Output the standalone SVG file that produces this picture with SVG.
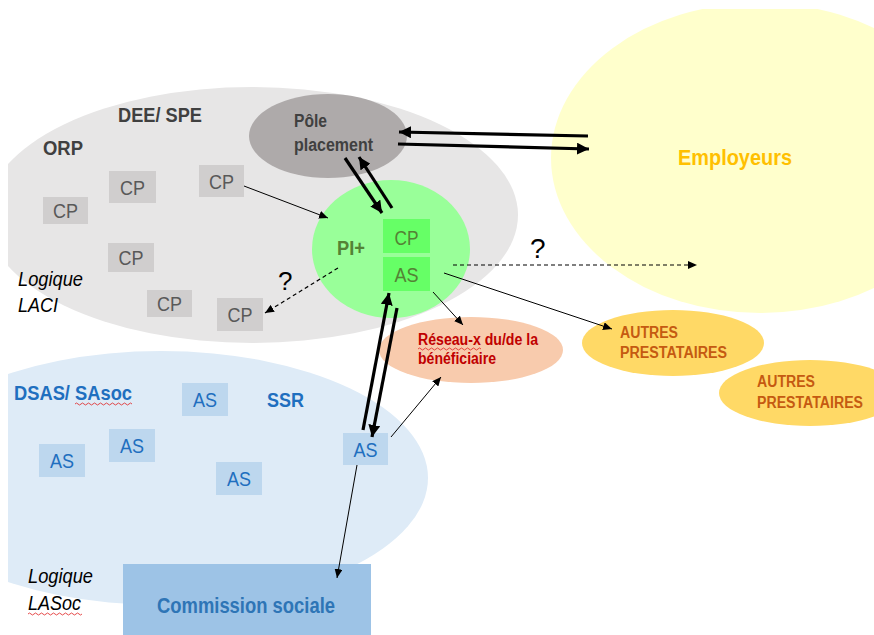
<svg xmlns="http://www.w3.org/2000/svg" width="874" height="635" viewBox="0 0 874 635">
<style>
text{font-family:"Liberation Sans",Arial,sans-serif}
.b{font-weight:bold}
.i{font-style:italic;font-size:20px;fill:#000}
.cpbox{fill:#d0cece}
.cpt{font-size:21px;fill:#595959;text-anchor:middle}
.asbox{fill:#bdd7ee}
.ast{font-size:21px;fill:#1f6fbf;text-anchor:middle}
.gbox{fill:#66ff66}
.gt{font-size:21px;fill:#548235;text-anchor:middle}
.thick{stroke:#000;stroke-width:3.2;fill:none}
.thin{stroke:#000;stroke-width:1;fill:none}
.dash{stroke:#000;stroke-width:1.2;fill:none;stroke-dasharray:4 3}
.sq{stroke:#e02020;stroke-width:0.8;fill:none}
</style>
<defs>
<clipPath id="clip"><rect x="8" y="9" width="866" height="626"/></clipPath>
<marker id="ah" markerUnits="userSpaceOnUse" markerWidth="14" markerHeight="12" refX="12" refY="6" orient="auto"><path d="M0,0 L12,6 L0,12 Z" fill="#000"/></marker>
<marker id="as" markerUnits="userSpaceOnUse" markerWidth="10" markerHeight="8" refX="9" refY="4" orient="auto"><path d="M0,0 L9,4 L0,8 Z" fill="#000"/></marker>
</defs>
<rect width="874" height="635" fill="#fff"/>
<g clip-path="url(#clip)">
<g id="orp-zone"><ellipse cx="252" cy="215" rx="266" ry="128" fill="#e7e6e6"/></g>
<g id="employeurs"><ellipse cx="760" cy="158" rx="209" ry="155" fill="#ffffcc"/></g>
<g id="dsas-zone"><ellipse cx="161" cy="478" rx="267" ry="127" fill="#deebf7"/></g>
<g id="autres2-shape"><ellipse cx="810" cy="393" rx="91" ry="33" fill="#ffd966"/></g>
</g>
<text x="678" y="165" class="b" font-size="22" fill="#ffc000" textLength="114" lengthAdjust="spacingAndGlyphs">Employeurs</text>
<g id="orp-labels">
<text x="118" y="122" class="b" font-size="21" fill="#404040" textLength="84" lengthAdjust="spacingAndGlyphs">DEE/ SPE</text>
<text x="43" y="155" class="b" font-size="21" fill="#404040" textLength="40" lengthAdjust="spacingAndGlyphs">ORP</text>
<text x="18" y="286" class="i" textLength="65" lengthAdjust="spacingAndGlyphs">Logique</text>
<text x="18" y="312" class="i" textLength="40" lengthAdjust="spacingAndGlyphs">LACI</text>
</g>
<g id="cp1"><rect x="43" y="197" width="45" height="27" class="cpbox"/><text x="65.5" y="218" class="cpt" textLength="25" lengthAdjust="spacingAndGlyphs">CP</text></g>
<g id="cp2"><rect x="109" y="171" width="47" height="32" class="cpbox"/><text x="132.5" y="195" class="cpt" textLength="25" lengthAdjust="spacingAndGlyphs">CP</text></g>
<g id="cp3"><rect x="199" y="165" width="45" height="32" class="cpbox"/><text x="221.5" y="189" class="cpt" textLength="25" lengthAdjust="spacingAndGlyphs">CP</text></g>
<g id="cp4"><rect x="108" y="243" width="46" height="29" class="cpbox"/><text x="131" y="265" class="cpt" textLength="25" lengthAdjust="spacingAndGlyphs">CP</text></g>
<g id="cp5"><rect x="147" y="290" width="45" height="27" class="cpbox"/><text x="169.5" y="311" class="cpt" textLength="25" lengthAdjust="spacingAndGlyphs">CP</text></g>
<g id="cp6"><rect x="217" y="298" width="46" height="33" class="cpbox"/><text x="240" y="322" class="cpt" textLength="25" lengthAdjust="spacingAndGlyphs">CP</text></g>
<g id="pole-placement">
<ellipse cx="328" cy="136" rx="79" ry="42" fill="#aeaaaa"/>
<text x="294" y="127" class="b" font-size="17.5" fill="#404040" textLength="33" lengthAdjust="spacingAndGlyphs">Pôle</text>
<text x="294" y="151" class="b" font-size="17.5" fill="#404040" textLength="79" lengthAdjust="spacingAndGlyphs">placement</text>
</g>
<g id="pi-plus">
<ellipse cx="391" cy="249" rx="79" ry="69" fill="#99ff99"/>
<text x="337" y="255" class="b" font-size="21" fill="#548235" textLength="28" lengthAdjust="spacingAndGlyphs">PI+</text>
<rect x="383" y="219" width="47" height="34" class="gbox"/><text x="406.5" y="245" class="gt" textLength="24" lengthAdjust="spacingAndGlyphs">CP</text>
<rect x="383" y="257" width="47" height="34" class="gbox"/><text x="406.5" y="282" class="gt" textLength="24" lengthAdjust="spacingAndGlyphs">AS</text>
</g>
<g id="reseau">
<ellipse cx="471" cy="350" rx="92" ry="33" fill="#f8cbad"/>
<text x="418" y="345" class="b" font-size="16" fill="#c00000" textLength="120" lengthAdjust="spacingAndGlyphs">Réseau-x du/de la</text>
<text x="418" y="364" class="b" font-size="16" fill="#c00000" textLength="78" lengthAdjust="spacingAndGlyphs">bénéficiaire</text>
<path class="sq" d="M418,349 q1.5,-2 3,0 t3,0 t3,0 t3,0 t3,0 t3,0 t3,0 t3,0 t3,0 t3,0 t3,0 t3,0 t3,0 t3,0 t3,0 t3,0 t3,0 t3,0 t3,0 t3,0 t3,0"/>
</g>
<g id="autres1">
<ellipse cx="673" cy="343" rx="91" ry="33" fill="#ffd966"/>
<text x="620" y="338" class="b" font-size="16" fill="#c55a11" textLength="58" lengthAdjust="spacingAndGlyphs">AUTRES</text>
<text x="620" y="358" class="b" font-size="16" fill="#c55a11" textLength="107" lengthAdjust="spacingAndGlyphs">PRESTATAIRES</text>
</g>
<g id="autres2">
<text x="757" y="387" class="b" font-size="16" fill="#c55a11" textLength="58" lengthAdjust="spacingAndGlyphs">AUTRES</text>
<text x="757" y="408" class="b" font-size="16" fill="#c55a11" textLength="106" lengthAdjust="spacingAndGlyphs">PRESTATAIRES</text>
</g>
<g id="dsas-labels">
<text x="14" y="400" class="b" font-size="20.5" fill="#1f6fbf" textLength="118" lengthAdjust="spacingAndGlyphs">DSAS/ SAsoc</text>
<path class="sq" d="M75,404 q1.5,-2 3,0 t3,0 t3,0 t3,0 t3,0 t3,0 t3,0 t3,0 t3,0 t3,0 t3,0 t3,0 t3,0 t3,0 t3,0 t3,0 t3,0 t3,0 t3,0"/>
<text x="267" y="407" class="b" font-size="20.5" fill="#1f6fbf" textLength="37" lengthAdjust="spacingAndGlyphs">SSR</text>
<text x="28" y="583" class="i" textLength="65" lengthAdjust="spacingAndGlyphs">Logique</text>
<text x="28" y="610" class="i" textLength="53" lengthAdjust="spacingAndGlyphs">LASoc</text>
<path class="sq" d="M28,614 q1.5,-2 3,0 t3,0 t3,0 t3,0 t3,0 t3,0 t3,0 t3,0 t3,0 t3,0 t3,0 t3,0 t3,0 t3,0 t3,0 t3,0 t3,0 t3,0"/>
</g>
<g id="as1"><rect x="182" y="383" width="46" height="33" class="asbox"/><text x="205" y="407" class="ast" textLength="24" lengthAdjust="spacingAndGlyphs">AS</text></g>
<g id="as2"><rect x="109" y="429" width="46" height="33" class="asbox"/><text x="132" y="453" class="ast" textLength="24" lengthAdjust="spacingAndGlyphs">AS</text></g>
<g id="as3"><rect x="39" y="444" width="46" height="33" class="asbox"/><text x="62" y="468" class="ast" textLength="24" lengthAdjust="spacingAndGlyphs">AS</text></g>
<g id="as4"><rect x="216" y="462" width="46" height="33" class="asbox"/><text x="239" y="486" class="ast" textLength="24" lengthAdjust="spacingAndGlyphs">AS</text></g>
<g id="as-ssr"><rect x="343" y="433" width="45" height="32" class="asbox"/><text x="365.5" y="457" class="ast" textLength="24" lengthAdjust="spacingAndGlyphs">AS</text></g>
<g id="commission-sociale">
<rect x="123" y="564" width="248" height="71" fill="#9dc3e6"/>
<text x="157" y="613" class="b" font-size="22" fill="#2e75b6" textLength="178" lengthAdjust="spacingAndGlyphs">Commission sociale</text>
</g>
<g id="questions">
<text x="278" y="290" font-size="26" fill="#000">?</text>
<text x="530" y="258" font-size="28" fill="#000">?</text>
</g>
<g id="connectors">
<line class="thick" x1="588" y1="136" x2="399" y2="132" marker-end="url(#ah)"/>
<line class="thick" x1="398" y1="144" x2="589" y2="149" marker-end="url(#ah)"/>
<line class="thick" x1="345" y1="158" x2="382" y2="213" marker-end="url(#ah)"/>
<line class="thick" x1="392" y1="208" x2="359" y2="157" marker-end="url(#ah)"/>
<line class="thick" x1="363" y1="430" x2="389" y2="293" marker-end="url(#ah)"/>
<line class="thick" x1="397" y1="308" x2="372" y2="437" marker-end="url(#ah)"/>
<line class="thin" x1="244" y1="186" x2="328" y2="218" marker-end="url(#as)"/>
<line class="thin" x1="433" y1="292" x2="463" y2="325" marker-end="url(#as)"/>
<line class="thin" x1="444" y1="273" x2="612" y2="329" marker-end="url(#as)"/>
<line class="thin" x1="391" y1="437" x2="441" y2="377" marker-end="url(#as)"/>
<line class="thin" x1="357" y1="465" x2="337" y2="578" marker-end="url(#as)"/>
<line class="dash" x1="338" y1="268" x2="265" y2="313" marker-end="url(#as)"/>
<line class="dash" x1="453" y1="265" x2="697" y2="265" marker-end="url(#as)"/>
</g>
</svg>
